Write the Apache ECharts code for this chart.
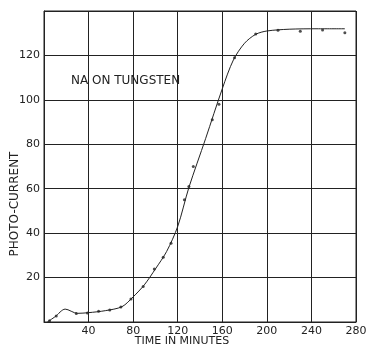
<!DOCTYPE html>
<html>
<head>
<meta charset="utf-8">
<script src="https://cdn.jsdelivr.net/npm/echarts@6/dist/echarts.min.js"></script>
<style>
  html, body { margin: 0; padding: 0; background: #fff; }
  #chart { width: 368px; height: 349px; }
</style>
</head>
<body>
<div id="chart"></div>
<script>
// measured points (time in minutes, photo-current)
var pointTimes = [5, 11, 29, 39, 49, 59, 69, 78, 89, 99, 107, 114, 126, 130, 134, 151, 157, 171, 190, 210, 230, 250, 270];
var pointValues = [0.6, 2.7, 3.8, 4.1, 4.8, 5.4, 6.8, 10.4, 16, 23.9, 29.1, 35.4, 55, 61, 70, 91, 98, 119, 129.6, 131.3, 130.9, 131.4, 130.2];

// hand-drawn curve
var curveTimes = [3, 10, 19, 30, 40, 55, 70, 80, 90, 100, 110, 120, 130, 145, 160, 170, 180, 190, 200, 220, 245, 270];
var curveValues = [0, 2.4, 5.8, 3.9, 4.2, 5.1, 6.9, 11.3, 16.7, 23.9, 31.7, 43, 60.5, 82.5, 105, 118, 125.5, 129.5, 131, 131.8, 132, 132];

var xTicks = [40, 80, 120, 160, 200, 240, 280];
var yTicks = [20, 40, 60, 80, 100, 120];

var chart = echarts.init(document.getElementById('chart'));
var ink = '#222';
var font = 'DejaVu Sans';

var option = {
  animation: false,
  backgroundColor: '#fff',
  title: {
    text: 'NA ON TUNGSTEN',
    left: 66,
    top: 70,
    textStyle: { color: ink, fontFamily: font, fontSize: 12, fontWeight: 'normal' }
  },
  // axis titles, placed like the original figure
  graphic: [
    {
      type: 'text',
      x: 182, y: 341,
      style: { text: 'TIME IN MINUTES', fill: ink, font: '11px "DejaVu Sans"', align: 'center', verticalAlign: 'middle' }
    },
    {
      type: 'text',
      x: 15, y: 204,
      rotation: Math.PI / 2,
      style: { text: 'PHOTO-CURRENT', fill: ink, font: '12px "DejaVu Sans"', align: 'center', verticalAlign: 'middle' }
    }
  ],
  grid: {
    left: 44, right: 12, top: 11, bottom: 27,
    outerBoundsMode: 'none',
    containLabel: false,
    show: true, borderColor: ink, borderWidth: 1
  },
  xAxis: {
    type: 'value',
    min: 0, max: 280, interval: 40,
    axisLine: { lineStyle: { color: ink, width: 1 } },
    axisTick: { show: false },
    axisLabel: {
      color: ink, fontFamily: font, fontSize: 11, margin: 4,
      formatter: function (v) { return xTicks.indexOf(v) >= 0 ? String(v) : ''; }
    },
    splitLine: { show: true, lineStyle: { color: ink, width: 1 } }
  },
  yAxis: {
    type: 'value',
    min: 0, max: 140, interval: 20,
    axisLine: { lineStyle: { color: ink, width: 1 } },
    axisTick: { show: false },
    axisLabel: {
      color: ink, fontFamily: font, fontSize: 11, margin: 4,
      formatter: function (v) { return yTicks.indexOf(v) >= 0 ? String(v) : ''; }
    },
    splitLine: { show: true, lineStyle: { color: ink, width: 1 } }
  },
  series: [
    {
      name: 'curve',
      type: 'line',
      smooth: 0.3,
      showSymbol: false,
      lineStyle: { color: ink, width: 1 },
      data: curveTimes.map(function (t, i) { return [t, curveValues[i]]; })
    },
    {
      name: 'points',
      type: 'scatter',
      symbolSize: 3,
      itemStyle: { color: ink },
      data: pointTimes.map(function (t, i) { return [t, pointValues[i]]; })
    }
  ]
};

chart.setOption(option);
</script>
</body>
</html>
